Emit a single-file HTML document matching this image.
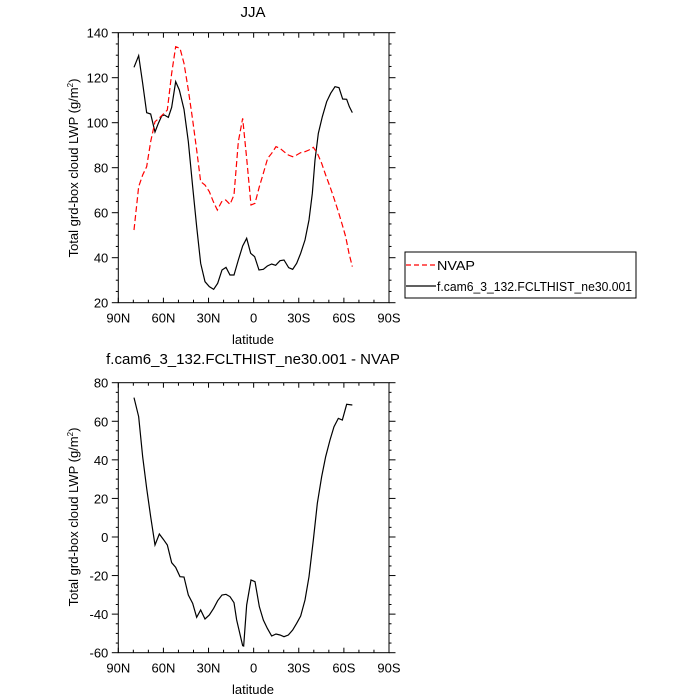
<!DOCTYPE html>
<html><head><meta charset="utf-8"><style>
body{margin:0;background:#fff}
svg{display:block;font-family:"Liberation Sans",sans-serif}
</style></head><body>
<svg id="s" width="700" height="700" viewBox="0 0 700 700" xmlns="http://www.w3.org/2000/svg">
<text x="253" y="17" font-size="15" text-anchor="middle">JJA</text>
<text x="253" y="364" font-size="15" text-anchor="middle">f.cam6_3_132.FCLTHIST_ne30.001 - NVAP</text>
<text x="253" y="344" font-size="13" text-anchor="middle">latitude</text>
<text x="253" y="694" font-size="13" text-anchor="middle">latitude</text>
<text transform="translate(78,168) rotate(-90)" font-size="13" text-anchor="middle">Total grd-box cloud LWP (g/m<tspan font-size="8" dy="-5">2</tspan><tspan dy="5">)</tspan></text>
<text transform="translate(78,517) rotate(-90)" font-size="13" text-anchor="middle">Total grd-box cloud LWP (g/m<tspan font-size="8" dy="-5">2</tspan><tspan dy="5">)</tspan></text>
<g id="ax" stroke="#000" fill="none"></g>
<g id="lb" font-size="13"></g>
<g transform="translate(60,20) scale(0.3333333)" fill="none">
<polyline vector-effect="non-scaling-stroke" stroke="#000" stroke-width="1.2" points="222,142 236,107 248,190 260,278 272,282 285,336 295,310 305,288 313,285 325,292 335,262 347,185 358,210 372,268 385,365 398,500 410,620 422,730 435,785 448,800 461,808 473,790 486,750 498,742 510,765 522,765 535,720 548,678 560,655 572,700 584,710 597,750 610,748 622,738 635,732 647,736 660,722 672,720 686,743 698,748 710,730 722,700 735,660 747,600 757,520 765,420 775,340 787,290 800,245 812,220 825,200 837,203 848,237 860,238 868,260 877,278"/>
<polyline vector-effect="non-scaling-stroke" stroke="#f00" stroke-width="1.2" stroke-dasharray="6 3" points="222,630 236,500 248,465 260,440 272,365 285,305 297,295 310,282 322,270 335,160 347,80 360,85 372,130 385,210 398,300 410,390 422,485 435,495 448,515 460,545 472,570 485,545 497,540 510,553 522,525 535,365 548,295 560,415 573,555 585,550 598,500 610,460 623,415 635,400 648,380 660,385 672,395 685,405 698,410 710,405 722,398 735,395 747,390 760,382 772,400 785,430 797,465 810,500 822,535 835,575 847,615 857,650 867,700 877,740"/>
</g>
<g transform="translate(60,360) scale(0.3333333)" fill="none">
<polyline vector-effect="non-scaling-stroke" stroke="#000" stroke-width="1.2" points="222,113 236,170 248,290 260,385 272,470 285,555 298,522 310,538 322,555 335,608 347,622 360,650 372,651 385,705 398,730 410,772 422,750 435,777 448,765 461,745 473,722 486,705 498,703 510,710 522,728 530,780 537,810 548,857 551,858 560,735 573,660 585,665 598,740 610,780 622,805 635,828 648,822 660,825 672,830 685,825 698,810 710,790 722,768 735,720 747,650 760,540 772,430 785,350 797,290 810,240 822,200 835,175 847,180 860,133 877,135"/>
</g>
<rect x="405" y="252" width="231" height="46" fill="none" stroke="#000" stroke-width="1"/>
<line x1="406" y1="265" x2="436" y2="265" stroke="#f00" stroke-width="1.2" stroke-dasharray="5 3"/>
<text x="437" y="270" font-size="13" textLength="38" lengthAdjust="spacingAndGlyphs">NVAP</text>
<line x1="406" y1="286" x2="436" y2="286" stroke="#000" stroke-width="1.2"/>
<text x="437" y="291" font-size="13" textLength="195" lengthAdjust="spacingAndGlyphs">f.cam6_3_132.FCLTHIST_ne30.001</text>
<script>
var ax=document.getElementById('ax'),lb=document.getElementById('lb'),NS='http://www.w3.org/2000/svg';
function L(x1,y1,x2,y2){var e=document.createElementNS(NS,'line');e.setAttribute('x1',x1);e.setAttribute('y1',y1);e.setAttribute('x2',x2);e.setAttribute('y2',y2);ax.appendChild(e);}
function T(x,y,s,a){var e=document.createElementNS(NS,'text');e.setAttribute('x',x);e.setAttribute('y',y);e.setAttribute('text-anchor',a);e.textContent=s;lb.appendChild(e);}
function panel(top,bot,ymin,ymax,ystep,yminor){
 var l=118.3,r=389;
 var r0=document.createElementNS(NS,'rect');r0.setAttribute('x',l);r0.setAttribute('y',top);r0.setAttribute('width',r-l);r0.setAttribute('height',bot-top);ax.appendChild(r0);
 var xl=['90N','60N','30N','0','30S','60S','90S'];
 for(var d=0;d<=180;d+=10){var x=l+(r-l)*d/180,maj=d%30==0,len=maj?5:3;L(x,bot,x,bot-len);L(x,top,x,top+len);
  if(maj)T(x,bot+20,xl[d/30],'middle');}
 for(var v=ymin;v<=ymax+0.01;v+=yminor){var y=bot-(bot-top)*(v-ymin)/(ymax-ymin),maj=Math.abs((v-ymin)%ystep)<0.01,len=maj?6.5:2.5;L(l,y,l-len,y);L(r,y,r+len,y);
  if(maj)T(l-10,y+5,String(v),'end');}
}
panel(32.7,302.7,20,140,20,5);
panel(382.7,652.7,-60,80,20,5);
</script>
</svg>
</body></html>
